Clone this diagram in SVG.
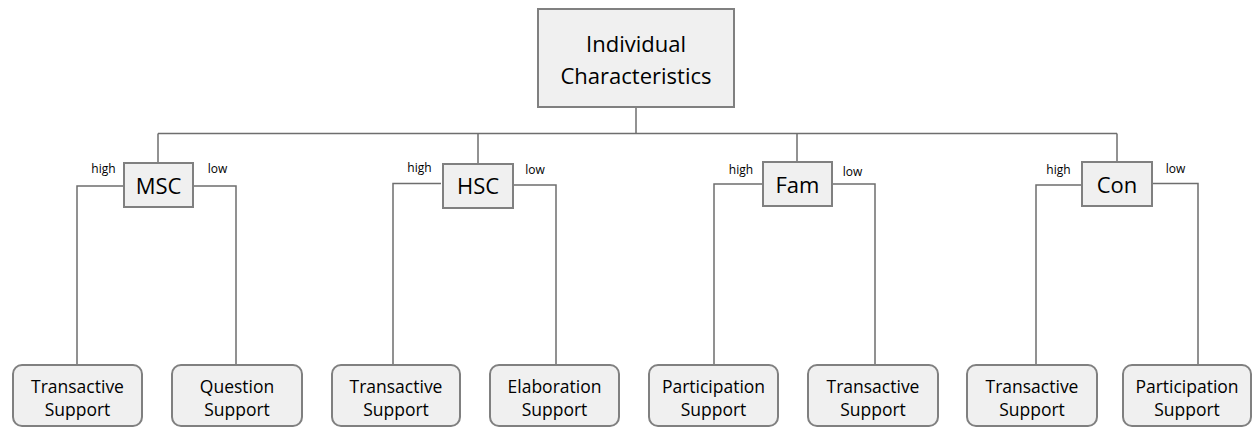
<svg xmlns="http://www.w3.org/2000/svg" width="1254" height="428" viewBox="0 0 1254 428">
  <style>
    .box { fill: #f0f0f0; stroke: #808080; stroke-width: 2; }
    .wire { fill: none; stroke: #6e6e6e; stroke-width: 1.5; }
    text { font-family: "Open Sans", "Liberation Sans", sans-serif; fill: #000; text-anchor: middle; }
    .t-root { font-size: 22px; }
    .t-var { font-size: 22px; }
    .t-leaf { font-size: 17.5px; }
    .t-edge { font-size: 12px; }
  </style>

  <rect width="1254" height="428" fill="#ffffff"/>

  <!-- connectors -->
  <g id="connectors" class="wire">
    <path d="M636 107 V133.5"/>
    <path d="M158 133.5 H1117"/>
    <path d="M158 133.5 V163"/>
    <path d="M478 133.5 V164"/>
    <path d="M797 133.5 V162"/>
    <path d="M1117 133.5 V162"/>
    <!-- MSC branches -->
    <path d="M124 186 H77 V365"/>
    <path d="M193 186 H236 V365"/>
    <!-- HSC branches -->
    <path d="M441 183.5 H393 V365"/>
    <path d="M513 185 H556 V365"/>
    <!-- Fam branches -->
    <path d="M763 184 H714 V365"/>
    <path d="M832 184 H875 V365"/>
    <!-- Con branches -->
    <path d="M1082 185 H1036 V365"/>
    <path d="M1153 183.5 H1198 V365"/>
  </g>

  <g id="edge-labels" class="t-edge">
    <text x="103.5" y="173">high</text>
    <text x="217.5" y="173">low</text>
    <text x="419.5" y="172">high</text>
    <text x="535" y="174">low</text>
    <text x="741" y="174">high</text>
    <text x="852.5" y="176">low</text>
    <text x="1058.5" y="174">high</text>
    <text x="1175.5" y="173">low</text>
  </g>

  <g id="individual-characteristics">
    <rect class="box" x="538" y="9" width="196" height="98"/>
    <text class="t-root" x="636" y="52">Individual</text>
    <text class="t-root" x="636" y="84">Characteristics</text>
  </g>

  <g id="msc">
    <rect class="box" x="124" y="163" width="69" height="44"/>
    <text class="t-var" x="158.5" y="194">MSC</text>
  </g>
  <g id="hsc">
    <rect class="box" x="443" y="164" width="70" height="44"/>
    <text class="t-var" x="478" y="194">HSC</text>
  </g>
  <g id="fam">
    <rect class="box" x="763" y="162" width="69" height="44"/>
    <text class="t-var" x="797.5" y="193">Fam</text>
  </g>
  <g id="con">
    <rect class="box" x="1082" y="162" width="70" height="44"/>
    <text class="t-var" x="1117" y="193">Con</text>
  </g>

  <g id="msc-high">
    <rect class="box" x="13" y="365" width="129" height="61" rx="9"/>
    <text class="t-leaf" x="77.5" y="393">Transactive</text>
    <text class="t-leaf" x="77.5" y="416">Support</text>
  </g>
  <g id="msc-low">
    <rect class="box" x="172" y="365" width="130" height="61" rx="9"/>
    <text class="t-leaf" x="237" y="393">Question</text>
    <text class="t-leaf" x="237" y="416">Support</text>
  </g>
  <g id="hsc-high">
    <rect class="box" x="332" y="365" width="128" height="61" rx="9"/>
    <text class="t-leaf" x="396" y="393">Transactive</text>
    <text class="t-leaf" x="396" y="416">Support</text>
  </g>
  <g id="hsc-low">
    <rect class="box" x="490" y="365" width="129" height="61" rx="9"/>
    <text class="t-leaf" x="554.5" y="393">Elaboration</text>
    <text class="t-leaf" x="554.5" y="416">Support</text>
  </g>
  <g id="fam-high">
    <rect class="box" x="649" y="365" width="129" height="61" rx="9"/>
    <text class="t-leaf" x="713.5" y="393">Participation</text>
    <text class="t-leaf" x="713.5" y="416">Support</text>
  </g>
  <g id="fam-low">
    <rect class="box" x="808" y="365" width="130" height="61" rx="9"/>
    <text class="t-leaf" x="873" y="393">Transactive</text>
    <text class="t-leaf" x="873" y="416">Support</text>
  </g>
  <g id="con-high">
    <rect class="box" x="967" y="365" width="130" height="61" rx="9"/>
    <text class="t-leaf" x="1032" y="393">Transactive</text>
    <text class="t-leaf" x="1032" y="416">Support</text>
  </g>
  <g id="con-low">
    <rect class="box" x="1123" y="365" width="128" height="61" rx="9"/>
    <text class="t-leaf" x="1187" y="393">Participation</text>
    <text class="t-leaf" x="1187" y="416">Support</text>
  </g>
</svg>
